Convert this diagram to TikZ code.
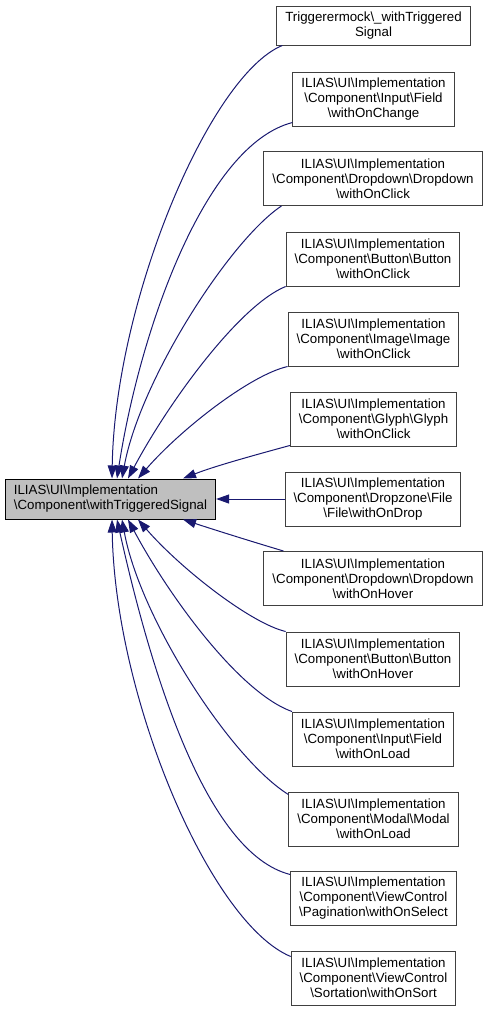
\documentclass[tikz,border=0pt]{standalone}
\usepackage{fontspec}
\setmainfont{Liberation Sans}
\usetikzlibrary{arrows.meta}
\newcommand{\bsl}{\textbackslash}
\newcommand{\ilpre}{ILIAS\bsl UI\bsl Implementation\\\bsl Component}
\definecolor{midblue}{HTML}{191970}
\definecolor{boxgrey}{HTML}{BFBFBF}
\definecolor{framegrey}{HTML}{404040}
\tikzset{
  cbox/.style={draw=framegrey, line width=1pt, fill=white, align=center,
    inner xsep=8.5pt, inner ysep=0pt, minimum height=54pt,
    font=\fontsize{13.3}{15}\selectfont},
  dep/.style={midblue, line width=1pt, -{Triangle[length=13pt,width=9pt]}},
}

\begin{document}
\begin{tikzpicture}[x=1pt,y=-1pt]
\useasboundingbox (0,0) rectangle (488,1013);

\node[cbox, draw=black, fill=boxgrey, align=left, minimum height=40pt] (main) at (110.5,499) {ILIAS\bsl UI\bsl Implementation\\\bsl Component\bsl withTriggeredSignal};

\node[cbox, minimum height=39pt] (c1) at (373.5,25.5) {Triggerermock\bsl\_withTriggered\\Signal};
\node[cbox] (c2) at (373.5,99) {\ilpre\bsl Input\bsl Field\\\bsl withOnChange};
\node[cbox] (c3) at (373,178.5) {\ilpre\bsl Dropdown\bsl Dropdown\\\bsl withOnClick};
\node[cbox] (c4) at (373,259) {\ilpre\bsl Button\bsl Button\\\bsl withOnClick};
\node[cbox] (c5) at (373.5,339) {\ilpre\bsl Image\bsl Image\\\bsl withOnClick};
\node[cbox] (c6) at (373.5,419) {\ilpre\bsl Glyph\bsl Glyph\\\bsl withOnClick};
\node[cbox] (c7) at (373,499) {\ilpre\bsl Dropzone\bsl File\\\bsl File\bsl withOnDrop};
\node[cbox] (c8) at (373,578.5) {\ilpre\bsl Dropdown\bsl Dropdown\\\bsl withOnHover};
\node[cbox] (c9) at (373,659) {\ilpre\bsl Button\bsl Button\\\bsl withOnHover};
\node[cbox] (c10) at (373,739) {\ilpre\bsl Input\bsl Field\\\bsl withOnLoad};
\node[cbox] (c11) at (373.5,819) {\ilpre\bsl Modal\bsl Modal\\\bsl withOnLoad};
\node[cbox] (c12) at (373.5,898) {\ilpre\bsl ViewControl\\\bsl Pagination\bsl withOnSelect};
\node[cbox] (c13) at (373.5,978) {\ilpre\bsl ViewControl\\\bsl Sortation\bsl withOnSort};

% edges above the main box
\draw[dep] ([xshift=6pt]c1.south west) .. controls (210,75) and (115,300) .. ([xshift=1.5pt]main.north);
\draw[dep] ([yshift=4pt]c2.south west) .. controls (205,145) and (140,330) .. ([xshift=6.5pt]main.north);
\draw[dep] ([xshift=18pt]c3.south west) .. controls (230,240) and (140,380) .. ([xshift=11.5pt]main.north);
\draw[dep] (c4.south west) .. controls (240,305) and (170,400) .. ([xshift=17.5pt]main.north);
\draw[dep] (c5.south west) .. controls (250,375) and (180,430) .. ([xshift=27.5pt]main.north);
\draw[dep] ([yshift=1pt]c6.south west) .. controls (255,455) and (215,466) .. ([xshift=72.5pt]main.north);
\draw[dep] (c7.west) -- (main.east);
% edges below the main box
\draw[dep] ([xshift=20pt]c8.north west) .. controls (250,541) and (215,530) .. ([xshift=72.5pt]main.south);
\draw[dep] (c9.north west) .. controls (250,623) and (180,568) .. ([xshift=27.5pt]main.south);
\draw[dep] (c10.north west) .. controls (240,693) and (170,598) .. ([xshift=17.5pt]main.south);
\draw[dep] ([yshift=-3pt]c11.north west) .. controls (230,758) and (140,618) .. ([xshift=11.5pt]main.south);
\draw[dep] ([yshift=-4pt]c12.north west) .. controls (205,853) and (150,668) .. ([xshift=6.5pt]main.south);
\draw[dep] ([yshift=-6pt]c13.north west) .. controls (210,923) and (115,698) .. ([xshift=1.5pt]main.south);
\end{tikzpicture}
\end{document}
